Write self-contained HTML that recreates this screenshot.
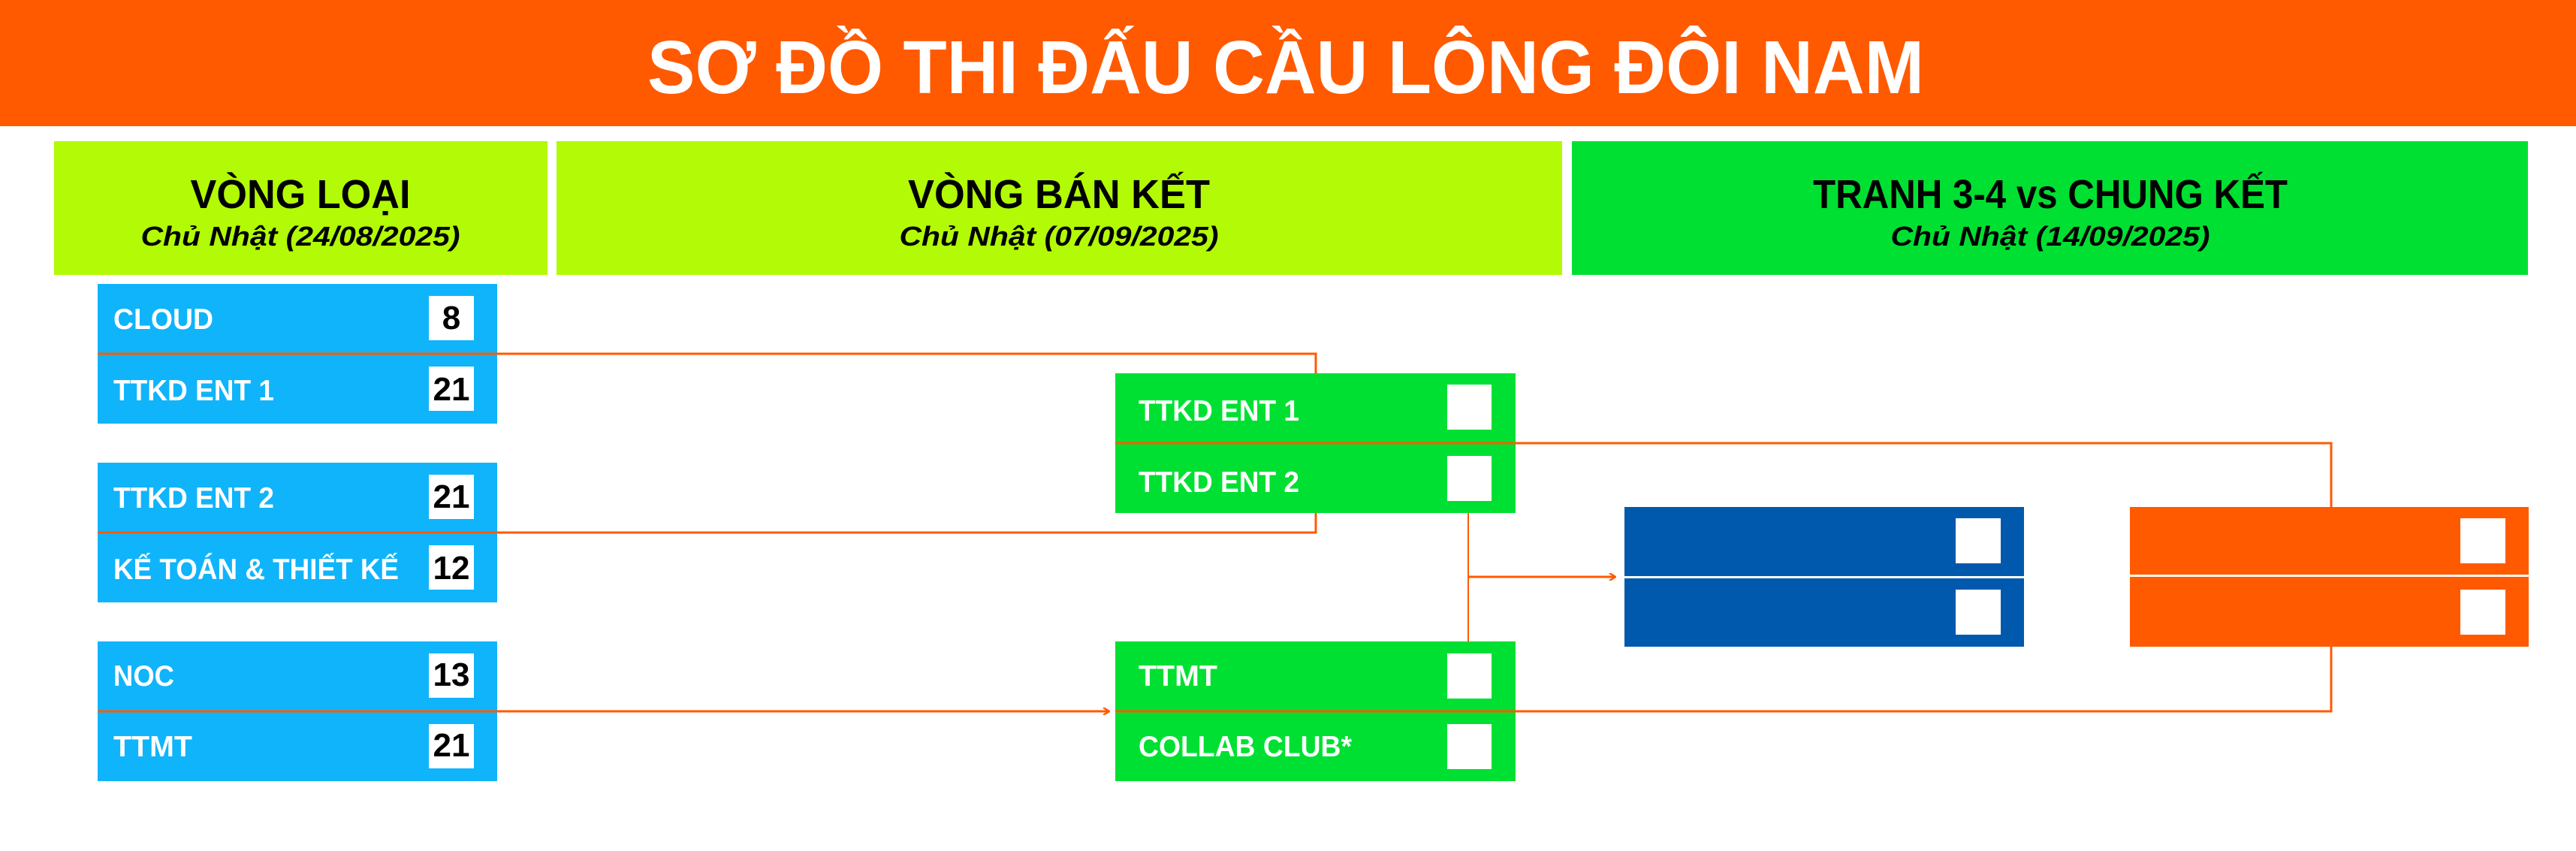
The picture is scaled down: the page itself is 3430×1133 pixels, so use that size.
<!DOCTYPE html>
<html><head><meta charset="utf-8"><style>html,body{margin:0;padding:0;background:#fff}svg{display:block}</style></head>
<body>
<svg width="3430" height="1133" viewBox="0 0 3430 1133" xmlns="http://www.w3.org/2000/svg" font-family="'Liberation Sans', 'Noto Sans CJK SC', sans-serif">
<defs>
<marker id="ar" markerWidth="10" markerHeight="10" refX="8" refY="5" orient="auto" markerUnits="userSpaceOnUse">
<path d="M1,0 L9,5 L1,10" fill="none" stroke="#ff5a00" stroke-width="2.5"/>
</marker>
</defs>
<rect x="0" y="0" width="3430" height="168" fill="#ff5a00"/>
<text x="1712" y="124" text-anchor="middle" font-size="100" font-weight="bold" fill="#fff" textLength="1700" lengthAdjust="spacingAndGlyphs">SƠ ĐỒ THI ĐẤU CẦU LÔNG ĐÔI NAM</text>

<rect x="72" y="188" width="657" height="178" fill="#b2fa05"/>
<rect x="741" y="188" width="1339" height="178" fill="#b2fa05"/>
<rect x="2093" y="188" width="1273" height="178" fill="#00e032"/>
<g font-weight="bold" fill="#000" text-anchor="middle">
<text x="400" y="277" font-size="54" textLength="293" lengthAdjust="spacingAndGlyphs">VÒNG LOẠI</text>
<text x="400" y="327" font-size="36" font-style="italic" textLength="425" lengthAdjust="spacingAndGlyphs">Chủ Nhật (24/08/2025)</text>
<text x="1410" y="277" font-size="54" textLength="402" lengthAdjust="spacingAndGlyphs">VÒNG BÁN KẾT</text>
<text x="1410" y="327" font-size="36" font-style="italic" textLength="425" lengthAdjust="spacingAndGlyphs">Chủ Nhật (07/09/2025)</text>
<text x="2730" y="277" font-size="54" textLength="632" lengthAdjust="spacingAndGlyphs">TRANH 3-4 vs CHUNG KẾT</text>
<text x="2730" y="327" font-size="36" font-style="italic" textLength="425" lengthAdjust="spacingAndGlyphs">Chủ Nhật (14/09/2025)</text>
</g>

<!-- qualifying boxes -->
<g>
<rect x="130" y="378" width="532" height="186" fill="#10b4fa"/>
<rect x="130" y="616" width="532" height="186" fill="#10b4fa"/>
<rect x="130" y="854" width="532" height="186" fill="#10b4fa"/>
<g fill="#fff">
<rect x="571" y="394" width="60" height="59"/><rect x="571" y="488" width="60" height="59"/>
<rect x="571" y="632" width="60" height="59"/><rect x="571" y="726" width="60" height="59"/>
<rect x="571" y="870" width="60" height="59"/><rect x="571" y="964" width="60" height="59"/>
</g>
<g fill="#fff" font-weight="bold" font-size="39">
<text x="151" y="438" textLength="133" lengthAdjust="spacingAndGlyphs">CLOUD</text>
<text x="151" y="533" textLength="214" lengthAdjust="spacingAndGlyphs">TTKD ENT 1</text>
<text x="151" y="676" textLength="214" lengthAdjust="spacingAndGlyphs">TTKD ENT 2</text>
<text x="151" y="771" textLength="380" lengthAdjust="spacingAndGlyphs">KẾ TOÁN &amp; THIẾT KẾ</text>
<text x="151" y="913" textLength="81" lengthAdjust="spacingAndGlyphs">NOC</text>
<text x="151" y="1007" textLength="105" lengthAdjust="spacingAndGlyphs">TTMT</text>
</g>
<g fill="#000" font-weight="bold" font-size="44" text-anchor="middle">
<text x="601" y="438">8</text>
<text x="601" y="533">21</text>
<text x="601" y="676">21</text>
<text x="601" y="771">12</text>
<text x="601" y="913">13</text>
<text x="601" y="1007">21</text>
</g>
</g>

<!-- semifinal -->
<rect x="1485" y="497" width="533" height="186" fill="#00e032"/>
<rect x="1485" y="854" width="533" height="186" fill="#00e032"/>
<g fill="#fff">
<rect x="1927" y="512" width="59" height="60"/><rect x="1927" y="607" width="59" height="60"/>
<rect x="1927" y="870" width="59" height="60"/><rect x="1927" y="964" width="59" height="60"/>
</g>
<g fill="#fff" font-weight="bold" font-size="39">
<text x="1516" y="560" textLength="214" lengthAdjust="spacingAndGlyphs">TTKD ENT 1</text>
<text x="1516" y="655" textLength="214" lengthAdjust="spacingAndGlyphs">TTKD ENT 2</text>
<text x="1516" y="913" textLength="105" lengthAdjust="spacingAndGlyphs">TTMT</text>
<text x="1516" y="1007" textLength="284" lengthAdjust="spacingAndGlyphs">COLLAB CLUB*</text>
</g>

<!-- finals -->
<rect x="2163" y="675" width="532" height="186" fill="#0059ad"/>
<rect x="2836" y="675" width="531" height="186" fill="#ff5a00"/>
<rect x="2163" y="767" width="532" height="3" fill="#fff"/>
<rect x="2836" y="765" width="531" height="3" fill="#fff"/>
<g fill="#fff">
<rect x="2604" y="690" width="60" height="60"/><rect x="2604" y="785" width="60" height="60"/>
<rect x="3276" y="690" width="60" height="60"/><rect x="3276" y="785" width="60" height="60"/>
</g>

<!-- connectors -->
<g fill="none" stroke="#ff5a00" stroke-width="3">
<polyline points="130,471 1752,471 1752,497"/>
<polyline points="130,709 1752,709 1752,683"/>
<line x1="130" y1="947" x2="1476" y2="947" marker-end="url(#ar)"/>
<polyline points="1485,590 3104,590 3104,675"/>
<polyline points="1485,947 3104,947 3104,861"/>
<line x1="1955" y1="683" x2="1955" y2="854" stroke-width="2"/>
<line x1="1955" y1="768" x2="2150" y2="768" marker-end="url(#ar)"/>
</g>
</svg>
</body></html>
